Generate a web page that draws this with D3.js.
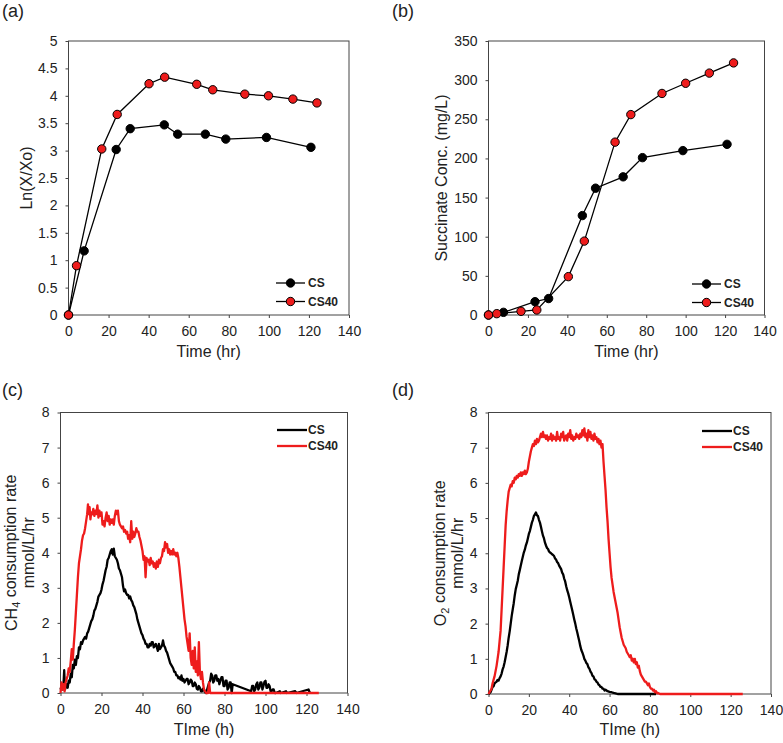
<!DOCTYPE html>
<html><head><meta charset="utf-8">
<script src="https://cdn.jsdelivr.net/npm/d3@7"></script>
<style>
body{margin:0;background:#fff}
svg{display:block}
text{font-family:"Liberation Sans",Arial,sans-serif;fill:#222}
</style>
</head><body>
<svg id="chart" width="783" height="743"></svg>
<script>
// ---------- DATA ----------
const timeTicks = [0,20,40,60,80,100,120,140];
const lnTicks = [0,0.5,1,1.5,2,2.5,3,3.5,4,4.5,5];
const succTicks = [0,50,100,150,200,250,300,350];
const rateTicks = [0,1,2,3,4,5,6,7,8];
const seriesNames = ["CS","CS40"];

// (a) Ln(X/Xo)
const growthCS_t   = [0,7.8,23.8,30.8,47.8,54.5,68.3,78.5,98.8,121];
const growthCS_v   = [0,1.17,3.02,3.40,3.47,3.30,3.30,3.21,3.24,3.06];
const growthCS40_t = [0,4,16.6,24.3,40.2,48,64,72,88,99.8,112,124];
const growthCS40_v = [0,0.90,3.03,3.66,4.22,4.34,4.21,4.11,4.03,4.00,3.94,3.87];

// (b) Succinate
const succCS_t   = [0,7.6,23.6,30.5,47.6,54.3,68.3,78.1,98.6,121];
const succCS_v   = [0,3.4,17,21,127,162,176.5,201,210,218];
const succCS40_t = [0,4.2,16.5,24.5,40.5,48.6,64.2,72.2,88,100,112,124.3];
const succCS40_v = [0,1.7,4.7,6.4,49,94.4,220.8,256,283,296,309,322];

// (c) CH4 consumption rate  [time h, rate]
const ch4CS = [[0,0.1],[0.5,0.2],[1,0.1],[1.5,0.3],[1.8,0.65],[2.2,0.1],[3,0.25],[3.5,0.15],[4,0.35],[4.5,0.3],[5,0.55],[5.5,0.45],[6,0.8],[6.5,0.7],[7,0.95],[7.5,0.8],[8,1.05],[8.5,1.0],[9,1.3],[9.5,1.25],[10,1.45],[10.5,1.4],[11,1.5],[11.5,1.55],[12,1.6],[12.5,1.55],[13,1.7],[13.5,1.75],[14,1.85],[14.5,1.95],[15,2.05],[15.5,2.1],[16,2.2],[16.5,2.35],[17,2.4],[17.5,2.5],[18,2.6],[18.5,2.75],[19,2.8],[19.5,2.85],[20,2.95],[20.5,3.1],[21,3.2],[21.5,3.35],[22,3.5],[22.5,3.6],[23,3.8],[23.5,3.85],[24,3.95],[24.5,4.05],[25,4.1],[25.5,3.95],[26,4.12],[26.5,3.9],[27,3.85],[27.5,3.8],[28,3.7],[28.5,3.55],[29,3.5],[29.5,3.4],[30,3.3],[30.5,3.05],[31,2.9],[31.5,2.95],[32,2.85],[32.5,2.8],[33,2.8],[33.5,2.7],[34,2.75],[34.5,2.65],[35,2.6],[35.5,2.5],[36,2.45],[36.5,2.35],[37,2.25],[37.5,2.1],[38,2.0],[38.5,1.9],[39,1.8],[39.5,1.7],[40,1.65],[40.5,1.55],[41,1.5],[41.5,1.4],[42,1.4],[42.5,1.3],[43,1.3],[43.5,1.4],[44,1.35],[44.5,1.45],[45,1.45],[45.5,1.3],[46,1.35],[46.5,1.4],[47,1.3],[47.5,1.2],[48,1.4],[48.5,1.25],[49,1.3],[49.5,1.35],[50,1.5],[50.5,1.35],[51,1.3],[51.5,1.2],[52,1.15],[52.5,1.05],[53,0.95],[53.5,0.85],[54,0.8],[54.5,0.75],[55,0.7],[55.5,0.6],[56,0.6],[56.5,0.5],[57,0.5],[57.5,0.42],[58,0.45],[58.5,0.38],[59,0.5],[59.5,0.35],[60,0.4],[60.5,0.3],[61,0.35],[61.5,0.4],[62,0.4],[62.5,0.25],[63,0.3],[63.5,0.38],[64,0.35],[64.5,0.2],[65,0.2],[65.5,0.3],[66,0.25],[66.5,0.12],[67,0.1],[67.5,0.2],[68,0.15],[68.5,0.05],[69,0.05],[69.5,0.12],[70,0.1],[70.5,0.02],[71,0.0],[71.5,0.1],[72,0.2],[72.5,0.3],[73,0.35],[73.5,0.55],[74,0.5],[74.5,0.3],[75,0.35],[75.5,0.5],[76,0.5],[76.5,0.35],[77,0.4],[77.5,0.25],[78,0.35],[78.5,0.45],[79,0.45],[79.5,0.2],[80,0.2],[80.5,0.35],[81,0.35],[81.5,0.1],[82,0.15],[82.5,0.3],[83,0.3],[83.5,0.0],[84,0.25],[93,0.05],[93.5,0.2],[94,0.2],[94.5,0.05],[95,0.1],[95.5,0.25],[96,0.3],[96.5,0.1],[97,0.15],[97.5,0.3],[98,0.3],[98.5,0.1],[99,0.2],[99.5,0.32],[100,0.35],[100.5,0.15],[101,0.15],[101.5,0.25],[102,0.2],[102.5,0.05],[103,0.05],[103.5,0.1],[104,0.1],[104.5,0.0],[105,0.0],[107,0.05],[107.5,0],[110,0.05],[110.5,0],[114.5,0.05],[115,0],[121,0.1],[121.5,0.02],[122,0]];

const ch4CS40 = [[0,0],[0.5,0.3],[1,0.1],[1.5,0.25],[2,0.05],[2.5,0.3],[3,0.4],[3.5,0.5],[4,0.7],[4.5,0.6],[5,0.9],[5.5,1.25],[6,0.95],[6.5,1.4],[7,1.8],[7.5,2.3],[8,2.8],[8.5,3.3],[9,3.7],[9.5,3.9],[10,4.1],[10.5,4.35],[11,4.5],[11.5,4.55],[12,4.7],[12.5,4.9],[13,5.1],[13.4,5.38],[13.8,5.1],[14.2,5.3],[14.6,4.95],[15,5.15],[15.5,5.1],[16,5.25],[16.5,5.05],[17,5.2],[17.5,5.1],[18,5.35],[18.5,5.0],[19,5.2],[19.5,5.05],[20,5.15],[20.5,4.8],[21,4.9],[21.5,4.75],[22,5.0],[22.5,5.15],[23,4.9],[23.5,5.05],[24,4.8],[24.5,4.95],[25,4.85],[25.5,4.95],[26,4.8],[26.5,5.05],[27,5.2],[27.5,5.1],[28,5.2],[28.5,4.9],[29,4.8],[29.5,4.75],[30,4.7],[30.5,4.75],[31,4.6],[31.5,4.65],[32,4.55],[32.5,4.6],[33,4.4],[33.5,4.5],[34,4.3],[34.5,4.9],[35,4.4],[35.5,4.6],[36,4.45],[36.5,4.55],[37,4.7],[37.5,4.6],[38,4.6],[38.5,4.45],[39,4.35],[39.5,4.2],[40,4.05],[40.5,3.8],[41,3.9],[41.5,3.3],[42,3.85],[42.5,3.75],[43,3.8],[43.5,3.65],[44,3.85],[44.5,3.7],[45,3.75],[45.5,3.6],[46,3.7],[46.5,3.55],[47,3.75],[47.5,3.6],[48,3.8],[48.5,3.7],[49,3.85],[49.5,3.9],[50,4.1],[50.5,4.05],[51,4.3],[51.5,4.15],[52,4.25],[52.5,4.0],[53,4.1],[53.5,3.95],[54,4.05],[54.5,3.95],[55,4.1],[55.5,3.95],[56,4.0],[56.5,3.9],[57,4.0],[57.5,3.85],[58,3.6],[58.5,3.3],[59,3.0],[59.5,2.7],[60,2.4],[60.5,2.1],[61,1.9],[61.5,1.6],[62,1.4],[62.5,1.2],[63,1.7],[63.5,1.0],[64,0.8],[64.5,1.2],[65,0.7],[65.5,1.3],[66,0.6],[66.5,0.9],[67,0.5],[67.5,1.45],[68,0.6],[68.5,0.4],[69,0.6],[69.5,0.3],[70,0.1],[70.5,0.05],[71,0],[72,0],[72.5,0.3],[73,0],[126,0]];

// (d) O2 consumption rate  [time h, rate]
const o2CS = [[0,0],[0.5,0.02],[1,0.05],[1.5,0.12],[2,0.2],[2.5,0.22],[3,0.3],[3.5,0.33],[4,0.35],[4.5,0.4],[5,0.38],[5.5,0.45],[6,0.5],[6.5,0.58],[7,0.7],[7.5,0.78],[8,0.9],[8.5,1.05],[9,1.2],[9.5,1.38],[10,1.6],[10.5,1.78],[11,2.0],[11.5,2.22],[12,2.4],[12.5,2.58],[13,2.8],[13.5,2.98],[14,3.1],[14.5,3.22],[15,3.4],[15.5,3.52],[16,3.65],[16.5,3.78],[17,3.9],[17.5,4.02],[18,4.1],[18.5,4.22],[19,4.3],[19.5,4.42],[20,4.55],[20.5,4.63],[21,4.75],[21.5,4.87],[22,4.95],[22.5,5.06],[23,5.1],[23.5,5.16],[24,5.08],[24.5,5.06],[25,4.95],[25.5,4.87],[26,4.75],[26.5,4.62],[27,4.5],[27.5,4.42],[28,4.3],[28.5,4.22],[29,4.15],[29.5,4.12],[30,4.05],[30.5,4.02],[31,4.0],[31.5,3.97],[32,3.95],[32.5,3.92],[33,3.85],[33.5,3.82],[34,3.75],[34.5,3.72],[35,3.65],[35.5,3.6],[36,3.55],[36.5,3.45],[37,3.4],[37.5,3.28],[38,3.2],[38.5,3.06],[39,2.95],[39.5,2.86],[40,2.75],[40.5,2.62],[41,2.5],[41.5,2.38],[42,2.25],[42.5,2.12],[43,2.0],[43.5,1.86],[44,1.75],[44.5,1.62],[45,1.5],[45.5,1.36],[46,1.25],[46.5,1.18],[47,1.1],[47.5,1.0],[48,0.95],[48.5,0.88],[49,0.85],[49.5,0.76],[50,0.72],[50.5,0.64],[51,0.6],[51.5,0.52],[52,0.5],[52.5,0.42],[53,0.4],[53.5,0.35],[54,0.33],[54.5,0.27],[55,0.25],[55.5,0.2],[56,0.2],[56.5,0.15],[57,0.15],[57.5,0.1],[58,0.12],[59,0.08],[60,0.06],[61,0.05],[62,0.03],[63,0.02],[64,0],[83,0]];

const o2CS40 = [[0,0],[0.5,0.05],[1,0.1],[1.5,0.15],[2,0.3],[2.5,0.4],[3,0.5],[3.5,0.65],[4,0.8],[4.5,1.0],[5,1.2],[5.5,1.5],[6,1.8],[6.5,2.4],[7,3.0],[7.5,3.6],[8,4.2],[8.5,4.8],[9,5.2],[9.5,5.5],[10,5.75],[10.5,5.85],[11,5.95],[11.5,5.9],[12,6.05],[12.5,6.0],[13,6.15],[13.5,6.1],[14,6.2],[14.5,6.15],[15,6.25],[15.5,6.2],[16,6.3],[16.5,6.2],[17,6.3],[17.5,6.25],[18,6.35],[18.5,6.25],[19,6.3],[19.5,6.4],[20,6.6],[20.5,6.75],[21,6.9],[21.5,7.0],[22,7.1],[22.5,7.05],[23,7.2],[23.5,7.1],[24,7.25],[24.5,7.15],[25,7.2],[25.5,7.3],[26,7.4],[26.5,7.3],[27,7.45],[27.5,7.3],[28,7.35],[28.5,7.25],[29,7.35],[29.5,7.2],[30,7.3],[30.5,7.25],[31,7.4],[31.5,7.2],[32,7.35],[32.5,7.25],[33,7.3],[33.5,7.2],[34,7.45],[34.5,7.25],[35,7.3],[35.5,7.2],[36,7.4],[36.5,7.3],[37,7.45],[37.5,7.2],[38,7.3],[38.5,7.35],[39,7.2],[39.5,7.4],[40,7.3],[40.5,7.5],[41,7.25],[41.5,7.35],[42,7.2],[42.5,7.3],[43,7.25],[43.5,7.4],[44,7.3],[44.5,7.35],[45,7.25],[45.5,7.4],[46,7.3],[46.5,7.5],[47,7.35],[47.5,7.55],[48,7.3],[48.5,7.4],[49,7.2],[49.5,7.5],[50,7.3],[50.5,7.45],[51,7.25],[51.5,7.35],[52,7.2],[52.5,7.4],[53,7.25],[53.5,7.3],[54,7.15],[54.5,7.25],[55,7.1],[55.5,7.2],[56,7.0],[56.5,7.1],[57,6.6],[57.5,6.2],[58,5.8],[58.5,5.3],[59,4.9],[59.5,4.4],[60,4.0],[60.5,3.6],[61,3.3],[61.5,3.1],[62,2.9],[62.5,2.75],[63,2.6],[63.5,2.45],[64,2.3],[64.5,2.1],[65,1.9],[65.5,1.75],[66,1.6],[66.5,1.5],[67,1.4],[67.5,1.35],[68,1.3],[68.5,1.2],[69,1.15],[69.5,1.1],[70,1.05],[70.5,1.1],[71,0.95],[71.5,1.0],[72,0.9],[72.5,1.0],[73,0.85],[73.5,0.9],[74,0.75],[74.5,0.8],[75,0.65],[75.5,0.55],[76,0.5],[76.5,0.45],[77,0.4],[77.5,0.35],[78,0.35],[78.5,0.3],[79,0.25],[79.5,0.3],[80,0.2],[80.5,0.15],[81,0.15],[81.5,0.1],[82,0.12],[82.5,0.05],[83,0.08],[83.5,0.02],[84,0.03],[85,0],[126,0]];

// ---------- DRAW ----------
const svg = d3.select("#chart");
svg.append("rect").attr("width",783).attr("height",743).attr("fill","#fff");
const RED = "#ee1c1c", BLACK = "#000";

function setupPanel(p) {
  const g = svg.append("g");
  const x = d3.scaleLinear().domain([0,140]).range([p.L,p.R]);
  const y = d3.scaleLinear().domain([0,p.ymax]).range([p.B,p.T]);
  const xa = g.append("g").attr("transform",`translate(0,${p.B})`)
    .call(d3.axisBottom(x).tickValues(timeTicks).tickSize(3).tickPadding(8));
  const ya = g.append("g").attr("transform",`translate(${p.L},0)`)
    .call(d3.axisLeft(y).tickValues(p.yTicks).tickSize(3).tickPadding(8).tickFormat(d3.format("")));
  [xa,ya].forEach(a=>{
    a.select(".domain").remove();
    a.selectAll("line").attr("stroke","#444");
    a.selectAll("text").attr("font-size",14).attr("fill","#222")
      .attr("font-family",'"Liberation Sans",Arial,sans-serif');
  });
  g.append("rect").attr("x",p.L).attr("y",p.T).attr("width",p.R-p.L).attr("height",p.B-p.T)
    .attr("fill","none").attr("stroke","#444").attr("stroke-width",1);
  g.append("text").attr("x",p.lx).attr("y",p.ly).attr("font-size",18)
    .attr("font-family",'"Open Sans",sans-serif').text(p.letter);
  g.append("text").attr("x",(p.L+p.R)/2).attr("y",p.xty).attr("text-anchor","middle")
    .attr("font-size",16).text(p.xTitle);
  return {g,x,y};
}

function markerPanel(p, sets) {
  const {g,x,y} = setupPanel(p);
  g.append("text").attr("transform",`translate(${p.ytx},${(p.T+p.B)/2}) rotate(-90)`)
    .attr("text-anchor","middle").attr("dy","0.35em").attr("font-size",16).text(p.yTitle);
  const line = d3.line().x(d=>x(d[0])).y(d=>y(d[1]));
  sets.forEach(s=>{
    const pts = s.t.map((t,i)=>[t,s.v[i]]);
    g.append("path").datum(pts).attr("d",line).attr("fill","none").attr("stroke","#000").attr("stroke-width",1.3);
  });
  sets.forEach(s=>{
    const pts = s.t.map((t,i)=>[t,s.v[i]]);
    g.selectAll(null).data(pts).enter().append("circle")
      .attr("cx",d=>x(d[0])).attr("cy",d=>y(d[1])).attr("r",4.2)
      .attr("fill",s.fill).attr("stroke","#000").attr("stroke-width",1);
  });
  sets.forEach((s,i)=>{
    const ly = p.legY + i*18.5;
    g.append("line").attr("x1",p.legX).attr("x2",p.legX+29).attr("y1",ly).attr("y2",ly)
      .attr("stroke","#000").attr("stroke-width",1.3);
    g.append("circle").attr("cx",p.legX+14.5).attr("cy",ly).attr("r",4.2)
      .attr("fill",s.fill).attr("stroke","#000").attr("stroke-width",1);
    g.append("text").attr("x",p.legX+32).attr("y",ly).attr("dy","0.36em")
      .attr("font-size",12).attr("font-weight","bold").text(s.name);
  });
}

function ratePanel(p, sets, gasMain, gasSub) {
  const {g,x,y} = setupPanel(p);
  const cy = (p.T+p.B)/2;
  const t1 = g.append("text").attr("transform",`translate(${p.ytx1},${cy}) rotate(-90)`)
    .attr("text-anchor","middle").attr("dy","0.35em").attr("font-size",16);
  t1.append("tspan").text(gasMain);
  t1.append("tspan").attr("font-size",11).attr("dy","0.35em").text(gasSub);
  t1.append("tspan").attr("dy","-0.25em").text(" consumption rate");
  g.append("text").attr("transform",`translate(${p.ytx2},${cy}) rotate(-90)`)
    .attr("text-anchor","middle").attr("dy","0.35em").attr("font-size",16).text("mmol/L/hr");
  const line = d3.line().x(d=>x(d[0])).y(d=>y(d[1]));
  sets.forEach(s=>{
    g.append("path").datum(s.d).attr("d",line).attr("fill","none")
      .attr("stroke",s.color).attr("stroke-width",2.3).attr("stroke-linejoin","round");
  });
  sets.forEach((s,i)=>{
    const ly = p.legY + i*16;
    g.append("line").attr("x1",p.legX).attr("x2",p.legX+30).attr("y1",ly).attr("y2",ly)
      .attr("stroke",s.color).attr("stroke-width",2.3);
    g.append("text").attr("x",p.legX+31).attr("y",ly).attr("dy","0.36em")
      .attr("font-size",12).attr("font-weight","bold").text(s.name);
  });
}

markerPanel({L:68.5,R:349,T:41,B:315,ymax:5,yTicks:lnTicks,letter:"(a)",lx:2,ly:17,
  xTitle:"Time (hr)",xty:357,yTitle:"Ln(X/Xo)",ytx:26,legX:276,legY:283},
  [{name:seriesNames[0],t:growthCS_t,v:growthCS_v,fill:BLACK},
   {name:seriesNames[1],t:growthCS40_t,v:growthCS40_v,fill:RED}]);

markerPanel({L:488.5,R:764.5,T:41,B:315,ymax:350,yTicks:succTicks,letter:"(b)",lx:392,ly:17,
  xTitle:"Time (hr)",xty:357,yTitle:"Succinate Conc. (mg/L)",ytx:441,legX:692,legY:284},
  [{name:seriesNames[0],t:succCS_t,v:succCS_v,fill:BLACK},
   {name:seriesNames[1],t:succCS40_t,v:succCS40_v,fill:RED}]);

ratePanel({L:60.5,R:347.5,T:412.5,B:693,ymax:8,yTicks:rateTicks,letter:"(c)",lx:2,ly:396,
  xTitle:"TIme (h)",xty:735,ytx1:11,ytx2:28,legX:277,legY:430},
  [{name:seriesNames[0],d:ch4CS,color:BLACK},{name:seriesNames[1],d:ch4CS40,color:RED}],"CH","4");

ratePanel({L:488.5,R:771,T:412.5,B:694,ymax:8,yTicks:rateTicks,letter:"(d)",lx:392,ly:396,
  xTitle:"TIme (h)",xty:735,ytx1:440,ytx2:457,legX:702,legY:431},
  [{name:seriesNames[0],d:o2CS,color:BLACK},{name:seriesNames[1],d:o2CS40,color:RED}],"O","2");
</script>
</body></html>
